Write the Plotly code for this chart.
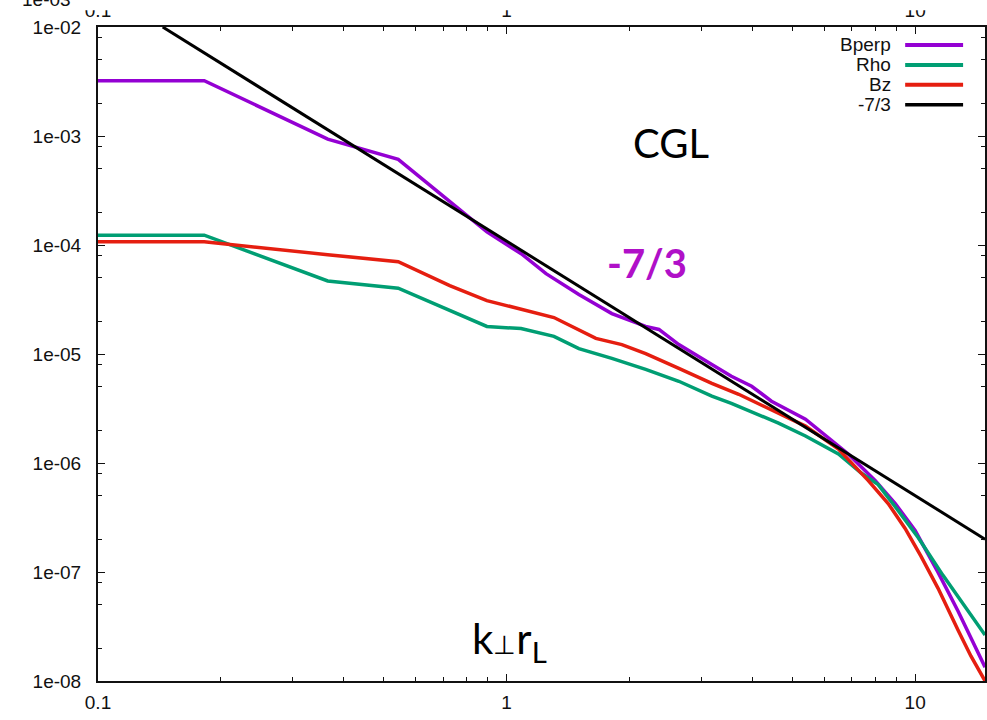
import plotly.graph_objects as go

# ---- data ----
k_bperp = [0.1, 0.182, 0.365, 0.543, 0.895, 1.086, 1.249, 1.503, 1.81, 2.19, 2.36, 2.64,
           3.18, 3.55, 3.98, 4.45, 5.39, 6.13, 6.86, 7.99, 8.94, 10.0, 11.38, 12.74, 14.25, 14.83]
bperp = [3.22e-3, 3.22e-3, 9.35e-4, 6.1e-4, 1.32e-4, 8.32e-5, 5.46e-5, 3.51e-5, 2.35e-5, 1.79e-5,
         1.68e-5, 1.22e-5, 8.03e-6, 6.24e-6, 5.06e-6, 3.69e-6, 2.52e-6, 1.69e-6, 1.21e-6, 6.89e-7,
         4.25e-7, 2.40e-7, 9.93e-8, 4.37e-8, 1.80e-8, 1.34e-8]

k_rho = [0.1, 0.182, 0.365, 0.543, 0.895, 1.085, 1.306, 1.503, 1.81, 2.19, 2.64, 3.18, 3.55,
         3.85, 4.63, 5.39, 6.49, 7.38, 8.12, 9.09, 10.17, 11.70, 13.25, 14.83]
rho = [1.23e-4, 1.23e-4, 4.68e-5, 4.01e-5, 1.79e-5, 1.71e-5, 1.45e-5, 1.12e-5, 9.12e-6, 7.23e-6,
       5.62e-6, 4.10e-6, 3.53e-6, 3.11e-6, 2.32e-6, 1.77e-6, 1.21e-6, 8.09e-7, 6.34e-7, 3.66e-7,
       2.07e-7, 9.31e-8, 4.75e-8, 2.64e-8]

k_bz = [0.1, 0.182, 0.365, 0.543, 0.726, 0.895, 1.306, 1.654, 1.915, 2.19, 2.64, 3.18, 3.70,
        4.63, 5.39, 6.49, 7.68, 8.59, 9.45, 10.34, 11.38, 12.74, 13.70, 14.83]
bz = [1.07e-4, 1.07e-4, 8.15e-5, 7.03e-5, 4.24e-5, 3.09e-5, 2.16e-5, 1.39e-5, 1.22e-5, 1.01e-5,
      7.38e-6, 5.38e-6, 4.27e-6, 2.86e-6, 2.18e-6, 1.34e-6, 6.89e-7, 4.25e-7, 2.51e-7, 1.39e-7,
      7.08e-8, 2.92e-8, 1.69e-8, 1.0e-8]

k_ref = [0.144, 14.83]
ref = [1.0e-2, 2.0e-7]

series_names = ["Bperp", "Rho", "Bz", "-7/3"]
series_colors = ["#9400d3", "#009e73", "#e51e10", "#000000"]

x_tick_vals = [0.1, 1, 10]
x_tick_text = ["0.1", "1", "10"]
y_tick_vals = [1e-8, 1e-7, 1e-6, 1e-5, 1e-4, 1e-3, 1e-2]
y_tick_text = ["1e-08", "1e-07", "1e-06", "1e-05", "1e-04", "1e-03", "1e-02"]

# ---- figure ----
fig = go.Figure()
data = [(k_bperp, bperp), (k_rho, rho), (k_bz, bz), (k_ref, ref)]
for (kx, vy), name, col in zip(data, series_names, series_colors):
    fig.add_trace(go.Scatter(x=kx, y=vy, mode="lines", name=name,
                             line=dict(color=col, width=3.5 if name != "-7/3" else 3),
                             showlegend=False))

x_minor = [m * 10 ** e for e in (-1, 0, 1) for m in range(2, 10)]
y_minor = [m * 10.0 ** e for e in range(-8, -2) for m in (2, 5, 8)]

FONT = "Liberation Sans, Arial, sans-serif"
tickfont = dict(family=FONT, size=19, color="#111")
axis_common = dict(type="log", showgrid=False, zeroline=False, showline=True,
                   linecolor="#111", linewidth=2, mirror="ticks", ticks="inside",
                   ticklen=7, tickwidth=1.3, tickcolor="#111", tickfont=tickfont)

fig.update_xaxes(range=[-1, 1.171], tickmode="array", tickvals=x_tick_vals,
                 ticktext=x_tick_text, ticklabelstandoff=3,
                 minor=dict(ticks="inside", ticklen=4, tickwidth=1.2, tickcolor="#111",
                            tickmode="array", tickvals=x_minor, showgrid=False),
                 **axis_common)
fig.update_yaxes(range=[-8, -2], tickmode="array", tickvals=y_tick_vals,
                 ticktext=y_tick_text, ticklabelstandoff=11,
                 minor=dict(ticks="inside", ticklen=4, tickwidth=1.2, tickcolor="#111",
                            tickmode="array", tickvals=y_minor, showgrid=False),
                 **axis_common)

# top axis labels (partly cut off at the top of the picture)
fig.add_trace(go.Scatter(x=k_ref, y=ref, xaxis="x2", mode="lines",
                         line=dict(width=0), hoverinfo="skip", showlegend=False))
fig.update_layout(xaxis2=dict(type="log", overlaying="x", side="top", range=[-1, 1.171],
                              tickmode="array", tickvals=x_tick_vals, ticktext=x_tick_text,
                              ticks="", showline=False, showgrid=False, zeroline=False,
                              tickfont=tickfont, ticklabelstandoff=5))
fig.add_shape(type="rect", xref="paper", yref="paper", x0=-0.2, x1=1.05,
              y0=1.0255, y1=1.06, fillcolor="white", line=dict(width=0), layer="above")
fig.add_annotation(x=-0.0585, y=1.0427, xref="paper", yref="paper", text="1e-03",
                   showarrow=False, xanchor="center", yanchor="middle",
                   font=dict(family=FONT, size=19, color="#111"))

# manual gnuplot-style legend (text right, sample on the right)
leg_y = [0.9726, 0.942, 0.9116, 0.881]
for name, col, yy in zip(series_names, series_colors, leg_y):
    fig.add_annotation(x=0.8965, y=yy, xref="paper", yref="paper", text=name,
                       showarrow=False, xanchor="right", yanchor="middle",
                       font=dict(family=FONT, size=19, color="#111"))
    fig.add_shape(type="line", xref="paper", yref="paper", x0=0.910, x1=0.9753, y0=yy, y1=yy,
                  line=dict(color=col, width=4 if col != "#000000" else 3.5))

# text labels
fig.add_annotation(x=0.6457, y=0.862, xref="paper", yref="paper", text="CGL",
                   showarrow=False, font=dict(family="Lato, sans-serif", size=40, color="#000"))
fig.add_annotation(x=0.6187, y=0.6387, xref="paper", yref="paper", text="<b>-7/3</b>",
                   showarrow=False, font=dict(family="Lato, sans-serif", size=40, color="#b010c8"))
fig.add_annotation(x=0.4634, y=0.016, xref="paper", yref="paper",
                   text="k<span style='font-size:26px'>⊥</span>r<sub>L</sub>",
                   showarrow=False, font=dict(family="Lato, sans-serif", size=42, color="#000"))

fig.update_layout(width=987, height=720, margin=dict(l=98, r=0, t=25, b=39),
                  paper_bgcolor="white", plot_bgcolor="white")

fig.write_html("out.html")
